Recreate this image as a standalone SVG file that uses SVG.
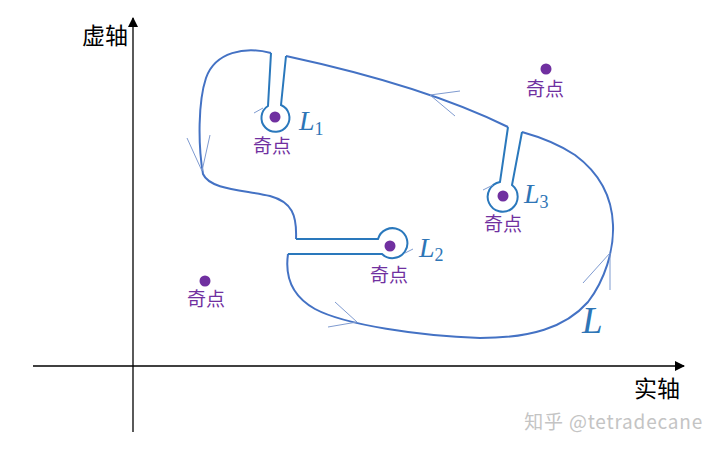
<svg xmlns="http://www.w3.org/2000/svg" width="720" height="449" viewBox="0 0 720 449">
<defs>
<style>
.axis{stroke:#000;stroke-width:1.3;fill:none}
.outer{stroke:#4472C4;stroke-width:2;fill:none;stroke-linejoin:round}
.key{stroke:#2A78BC;stroke-width:2;fill:none}
.chev{stroke:#7F9BD0;stroke-width:1;fill:none}
.dot{fill:#7030A0}
.sp{font-family:"Noto Sans CJK SC","Noto Sans",sans-serif;font-size:19px;fill:#7030A0;text-anchor:middle}
.ax{font-family:"Noto Sans CJK SC","Noto Sans",sans-serif;font-size:23px;fill:#000}
.lab{font-family:"Liberation Serif","DejaVu Serif",serif;font-style:italic;fill:#2E75B6}
</style>
<marker id="ah" viewBox="0 0 10 10" refX="9" refY="5" markerWidth="10" markerHeight="10" markerUnits="userSpaceOnUse" orient="auto">
<path d="M0,0 L10,5 L0,10 Z" fill="#000"/>
</marker>
</defs>
<g id="axes">
<line class="axis" x1="133" y1="432" x2="133" y2="18" marker-end="url(#ah)"/>
<line class="axis" x1="33" y1="366" x2="684" y2="366" marker-end="url(#ah)"/>
<text class="ax" x="128" y="44" text-anchor="end">虚轴</text>
<text class="ax" x="680" y="397" text-anchor="end">实轴</text>
</g>
<g id="connectors">
<path class="outer" d="M271,53 C245,46 215,52 206,78 C198,102 198,145 203,174 C210,190 245,190 270,196 C292,202 297,215 296,239 M288,254 C285,275 290,295 315,309 C345,325 420,336 480,338 C530,338 565,328 588,302 C605,280 614,250 613,225 C612,195 598,172 575,155 C560,145 540,137 522,132 M508,127 Q425,86 286,56"/>
<path class="key" d="M296,239 L378,239 A15,15 0 1,1 382,254 L288,254"/>
<path class="key" d="M522,132 L512,185 A15,15 0 1,1 500,182 L508,127"/>
<path class="key" d="M286,56 L281,105 A14,14 0 1,1 268,106 L271,53"/>
<path class="chev" d="M460,91 L430,95 L455,116"/>
<path class="chev" d="M187,138 L202,171 L210,135"/>
<path class="chev" d="M335,302 L357,322 L328,327"/>
<path class="chev" d="M583,283 L610,253 L610,290"/>
<path class="chev" d="M254,113 L263,108"/>
<path class="chev" d="M405,253 L413,249"/>
<path class="chev" d="M483,190 L493,185"/>
</g>
<g id="s1"><circle class="dot" cx="275" cy="117" r="5.5"/><text class="sp" x="272" y="153">奇点</text></g>
<g id="s2"><circle class="dot" cx="390" cy="246" r="5.5"/><text class="sp" x="389" y="282">奇点</text></g>
<g id="s3"><circle class="dot" cx="503" cy="196" r="5.5"/><text class="sp" x="503" y="231">奇点</text></g>
<g id="s4"><circle class="dot" cx="205" cy="281" r="5.5"/><text class="sp" x="206" y="306">奇点</text></g>
<g id="s5"><circle class="dot" cx="546" cy="69" r="5.5"/><text class="sp" x="545" y="96">奇点</text></g>
<g id="labels">
<text class="lab" x="299" y="130" font-size="28">L<tspan font-size="18" font-style="normal" dy="5">1</tspan></text>
<text class="lab" x="419" y="257" font-size="28">L<tspan font-size="18" font-style="normal" dy="4">2</tspan></text>
<text class="lab" x="524" y="203" font-size="28">L<tspan font-size="18" font-style="normal" dy="5">3</tspan></text>
<text class="lab" x="582" y="333" font-size="37">L</text>
</g>
<text x="703" y="429" text-anchor="end" font-family="Noto Sans CJK SC,Noto Sans,sans-serif" font-size="19" letter-spacing="0.8" fill="#C4C4C4">知乎 @tetradecane</text>
</svg>
